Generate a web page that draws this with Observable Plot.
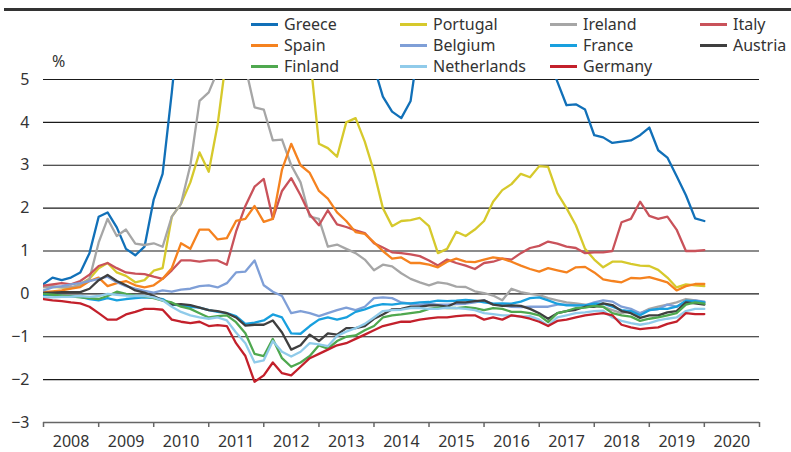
<!DOCTYPE html>
<html>
<head>
<meta charset="utf-8">
<script src="https://cdn.jsdelivr.net/npm/d3@7"></script>
<script src="https://cdn.jsdelivr.net/npm/@observablehq/plot@0.6"></script>
<style>
  html, body { margin: 0; padding: 0; background: #fff; }
  #wrap { position: relative; width: 791px; height: 452px; font-family: "Noto Sans", sans-serif; color: #333; overflow: hidden; }
  #topRule { position: absolute; left: 4px; right: 0; top: 8px; height: 2.5px; background: #333; }
  #pct { position: absolute; left: 52px; top: 50px; font-size: 16px; }
  .lg { position: absolute; font-size: 16px; line-height: 20px; white-space: nowrap; }
  .lg span.sw { position: absolute; left: 0; top: 9px; width: 27px; height: 3px; }
  .lg span.tx { position: absolute; left: 33px; top: 0; }
  #chart { position: absolute; left: 0; top: 0; }
</style>
</head>
<body>
<div id="wrap">
  <div id="chart"></div>
  <div id="topRule"></div>
  <div id="pct">%</div>
  <div id="legend"></div>
</div>
<script>
// Bi-monthly observations, Jan 2008 .. Jan 2020 (73 points each)
const startYear = 2008;
const stepMonths = 2;
const yearLabels = ["2008","2009","2010","2011","2012","2013","2014","2015","2016","2017","2018","2019","2020"];
const yTicks = [-3,-2,-1,0,1,2,3,4,5];

const countries = ["Greece","Portugal","Ireland","Italy","Spain","Belgium","France","Austria","Finland","Netherlands","Germany"];
const colors = ["#1170b8","#d6c92c","#a6a6a6","#c9525a","#f5821f","#7f9fd7","#18a0de","#3f3f3f","#4fa84f","#90cbea","#c3202b"];

const greece = [0.23,0.38,0.32,0.38,0.5,0.95,1.8,1.9,1.55,1.05,0.9,1.1,2.2,2.8,4.7,6.8,8,8.5,9,10,11,13,17,21,27,25,24,22,18,13,9.5,8.5,8,7.5,6.5,6,5.3,4.6,4.25,4.1,4.5,6,8,8.5,9,10,12,9,8,9,7,7,6.5,7,6,5.5,4.95,4.4,4.42,4.3,3.7,3.65,3.52,3.55,3.58,3.7,3.88,3.35,3.18,2.75,2.3,1.76,1.7];
const portugal = [0.16,0.16,0.15,0.13,0.23,0.35,0.6,0.72,0.5,0.42,0.27,0.32,0.54,0.6,1.8,2.1,2.6,3.3,2.85,3.95,5.6,5.8,6.5,8,11,9.5,8.5,8,6,5.6,3.5,3.4,3.2,4.0,4.1,3.55,2.85,2.0,1.58,1.7,1.72,1.77,1.58,0.95,1.05,1.45,1.35,1.5,1.7,2.15,2.42,2.56,2.8,2.72,2.98,2.96,2.35,2.0,1.6,1.05,0.8,0.62,0.75,0.75,0.7,0.66,0.65,0.56,0.38,0.15,0.22,0.2,0.18];
const ireland = [0.16,0.18,0.15,0.16,0.2,0.35,1.2,1.75,1.35,1.5,1.17,1.14,1.18,1.1,1.8,2.1,3.0,4.5,4.7,5.2,6.5,8,5.3,4.35,4.3,3.58,3.6,3.0,2.6,1.8,1.75,1.1,1.15,1.05,0.95,0.8,0.55,0.68,0.64,0.48,0.35,0.27,0.2,0.27,0.24,0.17,0.16,0.06,0.02,-0.04,-0.15,0.12,0.04,0.0,-0.03,-0.1,-0.15,-0.2,-0.22,-0.25,-0.3,-0.3,-0.38,-0.45,-0.4,-0.45,-0.35,-0.3,-0.25,-0.2,-0.12,-0.15,-0.2];
const italy = [0.19,0.22,0.25,0.22,0.3,0.45,0.65,0.72,0.6,0.5,0.47,0.46,0.4,0.35,0.55,0.78,0.78,0.75,0.78,0.78,0.68,1.45,2.05,2.5,2.68,1.75,2.4,2.7,2.3,1.85,1.6,1.95,1.62,1.56,1.48,1.42,1.18,1.08,0.97,0.95,0.92,0.88,0.78,0.66,0.8,0.72,0.66,0.58,0.72,0.75,0.82,0.8,0.95,1.07,1.12,1.22,1.17,1.1,1.07,0.95,0.97,0.97,1.0,1.67,1.75,2.15,1.82,1.75,1.8,1.5,1.0,1.0,1.02];
const spain = [0.04,0.06,0.08,0.12,0.16,0.3,0.38,0.18,0.25,0.3,0.2,0.15,0.2,0.35,0.6,1.18,1.05,1.5,1.5,1.27,1.3,1.7,1.75,2.05,1.68,1.75,2.9,3.5,3.0,2.82,2.4,2.22,1.9,1.7,1.44,1.4,1.2,1.0,0.82,0.85,0.72,0.72,0.68,0.62,0.75,0.82,0.75,0.74,0.8,0.85,0.82,0.75,0.66,0.58,0.52,0.6,0.55,0.5,0.62,0.63,0.5,0.34,0.3,0.27,0.37,0.36,0.39,0.33,0.27,0.08,0.18,0.23,0.23];
const belgium = [0.08,0.15,0.18,0.22,0.25,0.3,0.35,0.4,0.27,0.18,0.12,0.07,0.03,0.08,0.05,0.1,0.12,0.18,0.2,0.15,0.25,0.5,0.52,0.78,0.2,0.05,-0.05,-0.45,-0.4,-0.45,-0.52,-0.45,-0.38,-0.32,-0.38,-0.3,-0.1,-0.08,-0.1,-0.2,-0.23,-0.25,-0.23,-0.25,-0.25,-0.24,-0.23,-0.2,-0.15,-0.24,-0.27,-0.3,-0.31,-0.3,-0.3,-0.3,-0.25,-0.25,-0.27,-0.27,-0.2,-0.15,-0.18,-0.3,-0.35,-0.45,-0.38,-0.36,-0.25,-0.3,-0.2,-0.15,-0.18];
const france = [-0.02,-0.03,-0.05,-0.06,-0.07,-0.12,-0.15,-0.1,-0.15,-0.12,-0.1,-0.08,-0.09,-0.12,-0.25,-0.27,-0.3,-0.32,-0.38,-0.42,-0.45,-0.52,-0.7,-0.67,-0.62,-0.48,-0.55,-0.92,-0.93,-0.75,-0.6,-0.55,-0.6,-0.55,-0.42,-0.36,-0.28,-0.24,-0.25,-0.22,-0.22,-0.2,-0.19,-0.16,-0.17,-0.16,-0.14,-0.16,-0.2,-0.23,-0.22,-0.23,-0.18,-0.1,-0.08,-0.15,-0.23,-0.27,-0.27,-0.27,-0.23,-0.23,-0.3,-0.38,-0.4,-0.5,-0.38,-0.35,-0.35,-0.3,-0.16,-0.17,-0.2];
const austria = [0.02,0.03,0.04,0.04,0.04,0.12,0.32,0.44,0.3,0.2,0.08,0.03,-0.05,-0.15,-0.25,-0.24,-0.26,-0.32,-0.38,-0.4,-0.45,-0.55,-0.74,-0.72,-0.72,-0.62,-0.9,-1.3,-1.2,-0.95,-1.1,-0.92,-0.95,-0.8,-0.8,-0.75,-0.58,-0.48,-0.36,-0.35,-0.3,-0.3,-0.27,-0.27,-0.3,-0.2,-0.2,-0.17,-0.15,-0.25,-0.28,-0.27,-0.28,-0.35,-0.45,-0.58,-0.45,-0.4,-0.37,-0.3,-0.3,-0.22,-0.26,-0.4,-0.45,-0.56,-0.5,-0.5,-0.43,-0.4,-0.2,-0.22,-0.25];
const finland = [0.0,-0.02,-0.04,-0.06,-0.08,-0.1,-0.12,-0.05,0.05,0.0,-0.04,-0.06,-0.1,-0.16,-0.2,-0.3,-0.35,-0.45,-0.55,-0.52,-0.5,-0.66,-0.92,-1.4,-1.45,-1.05,-1.5,-1.7,-1.6,-1.45,-1.2,-1.28,-1.1,-1.0,-0.97,-0.85,-0.75,-0.55,-0.5,-0.48,-0.45,-0.42,-0.35,-0.32,-0.33,-0.33,-0.31,-0.33,-0.38,-0.33,-0.35,-0.42,-0.42,-0.45,-0.5,-0.66,-0.45,-0.4,-0.33,-0.32,-0.28,-0.3,-0.45,-0.5,-0.53,-0.63,-0.58,-0.55,-0.5,-0.45,-0.25,-0.2,-0.23];
const netherlands = [-0.08,-0.08,-0.07,-0.07,-0.05,-0.07,-0.05,0.0,-0.02,-0.04,-0.05,-0.05,-0.08,-0.15,-0.3,-0.42,-0.5,-0.55,-0.58,-0.55,-0.62,-0.9,-1.15,-1.6,-1.55,-1.1,-1.35,-1.46,-1.35,-1.15,-1.18,-1.22,-0.98,-0.88,-0.8,-0.7,-0.55,-0.4,-0.38,-0.37,-0.33,-0.33,-0.35,-0.35,-0.32,-0.33,-0.35,-0.38,-0.45,-0.47,-0.5,-0.5,-0.53,-0.52,-0.6,-0.74,-0.55,-0.5,-0.45,-0.43,-0.4,-0.39,-0.55,-0.63,-0.68,-0.72,-0.68,-0.62,-0.58,-0.55,-0.4,-0.35,-0.35];
const germany = [-0.12,-0.15,-0.17,-0.2,-0.22,-0.3,-0.45,-0.6,-0.6,-0.48,-0.42,-0.35,-0.35,-0.37,-0.6,-0.65,-0.68,-0.65,-0.75,-0.73,-0.75,-1.15,-1.45,-2.05,-1.9,-1.6,-1.85,-1.9,-1.7,-1.5,-1.4,-1.3,-1.2,-1.15,-1.05,-0.95,-0.85,-0.75,-0.7,-0.65,-0.65,-0.6,-0.57,-0.55,-0.55,-0.52,-0.5,-0.5,-0.6,-0.55,-0.6,-0.5,-0.53,-0.58,-0.65,-0.75,-0.63,-0.6,-0.55,-0.5,-0.47,-0.45,-0.5,-0.72,-0.78,-0.82,-0.8,-0.78,-0.7,-0.65,-0.45,-0.47,-0.47];

const seriesValues = [greece, portugal, ireland, italy, spain, belgium, france, austria, finland, netherlands, germany];

const dates = greece.map((_, i) => new Date(Date.UTC(startYear, i * stepMonths, 1)));
const rows = [];
countries.forEach((c, k) => {
  seriesValues[k].forEach((v, i) => rows.push({country: c, date: dates[i], value: v}));
});

const yearStarts = yearLabels.map(y => new Date(Date.UTC(+y, 0, 1))).concat([new Date(Date.UTC(2021, 0, 1))]);
const yearMids = yearLabels.map(y => new Date(Date.UTC(+y, 6, 2)));

const lineMarks = countries.map((c, k) =>
  Plot.line(rows.filter(r => r.country === c), {
    x: "date", y: "value", stroke: colors[k], strokeWidth: 2.3, clip: true, strokeLinejoin: "round"
  })
);

const chart = Plot.plot({
  width: 791,
  height: 452,
  marginTop: 79,
  marginBottom: 30,
  marginLeft: 43,
  marginRight: 32,
  style: {fontFamily: "'Noto Sans', sans-serif", fontSize: "16px", color: "#333", background: "transparent"},
  x: {type: "utc", domain: [yearStarts[0], yearStarts[yearStarts.length - 1]]},
  y: {domain: [-3, 5]},
  marks: [
    Plot.ruleY(yTicks.filter(d => d > -3), {stroke: "#1a1a1a", strokeWidth: 1.1}),
    Plot.ruleY([-3], {stroke: "#666", strokeWidth: 1.5}),
    Plot.axisY({ticks: yTicks, tickSize: 0, tickPadding: 14, label: null, fill: "#333"}),
    Plot.axisX({ticks: yearStarts, tickSize: 5, tickFormat: () => "", label: null, stroke: "#666", strokeWidth: 1.5}),
    Plot.axisX({ticks: yearMids, tickSize: 0, tickPadding: 13, tickFormat: d => String(d.getUTCFullYear()), label: null, fill: "#333"}),
    ...lineMarks
  ]
});
document.getElementById("chart").appendChild(chart);

// Legend: 3 rows x 4 columns, filled row by row
const legend = document.getElementById("legend");
const colX = [251, 400, 550, 700];
const rowY = [14, 35, 56];
countries.forEach((c, k) => {
  const cIdx = k % 4;
  const r = Math.floor(k / 4);
  const el = document.createElement("div");
  el.className = "lg";
  el.style.left = colX[cIdx] + "px";
  el.style.top = rowY[r] + "px";
  el.innerHTML = `<span class="sw" style="background:${colors[k]}"></span><span class="tx">${c}</span>`;
  legend.appendChild(el);
});
</script>
</body>
</html>
